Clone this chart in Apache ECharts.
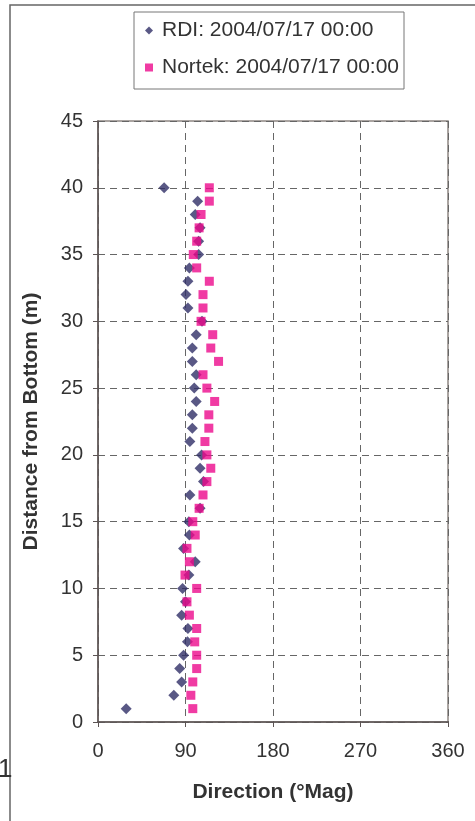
<!DOCTYPE html>
<html>
<head>
<meta charset="utf-8">
<script src="https://cdn.jsdelivr.net/npm/echarts@6/dist/echarts.min.js"></script>
<style>
  html, body { margin: 0; padding: 0; background: #fff; }
  #chart { width: 475px; height: 821px; }
</style>
</head>
<body>
<div id="chart"></div>
<script>
// distance from bottom (m), one bin per metre
const depths = [1, 2, 3, 4, 5, 6, 7, 8, 9, 10, 11, 12, 13, 14, 15, 16, 17, 18, 19, 20,
  21, 22, 23, 24, 25, 26, 27, 28, 29, 30, 31, 32, 33, 34, 35, 36, 37, 38, 39, 40]

// direction (deg Mag)
const rdiDir = [29, 78, 86, 84, 88, 92, 92.5, 86, 90, 87, 93.5, 100, 88, 94, 93.5, 105, 94.5, 108.5, 105, 106.5,
  94.5, 97, 97, 101, 99, 101, 97, 97, 101, 107, 92.5, 90.5, 92.5, 94, 103.5, 103.5, 105, 100, 102.5, 68]
const nortekDir = [97.5, 95.5, 97.5, 101.5, 101.5, 99.5, 101.5, 94, 91.5, 101.5, 89.5, 94, 91.5, 100, 97.5, 104, 108, 112, 116, 112,
  110, 114, 114, 120, 112, 108, 124, 116, 118, 106, 108, 108, 114.5, 101.5, 98, 101.5, 104, 106, 114.5, 114.5]

const xTicks = [0, 90, 180, 270, 360]

const rdiName = 'RDI: 2004/07/17 00:00'
const nortekName = 'Nortek: 2004/07/17 00:00'

const chart = echarts.init(document.getElementById('chart'))
const font = 'Liberation Sans, Arial, sans-serif'
const axisColor = '#5c5454'
const gridColor = '#666'

const option = {
  animation: false,
  textStyle: { fontFamily: font },
  grid: { left: 98, right: 27, top: 121, bottom: 99, show: true, borderColor: '#8f8682', borderWidth: 1.5 },
  legend: {
    orient: 'vertical',
    left: 134,
    top: 12,
    padding: [8, 5, 11, 11],
    itemGap: 16,
    itemWidth: 8,
    itemHeight: 8,
    borderColor: '#777',
    borderWidth: 1,
    borderRadius: 0,
    textStyle: { fontSize: 21, color: '#333', fontFamily: font, padding: [0, 0, 0, 4] },
    data: [
      { name: rdiName, icon: 'diamond', itemStyle: { color: '#2f2e66' } },
      { name: nortekName, icon: 'rect', itemStyle: { color: '#ec0a8c' } }
    ]
  },
  xAxis: {
    type: 'value',
    min: 0,
    max: 360,
    interval: 90,
    name: 'Direction (°Mag)',
    nameLocation: 'middle',
    nameGap: 60,
    nameTextStyle: { fontSize: 21, fontWeight: 'bold', color: '#333', fontFamily: font },
    axisLine: { show: true, lineStyle: { color: axisColor, width: 1.5 } },
    axisTick: { show: true, inside: false, length: 5, lineStyle: { color: axisColor } },
    axisLabel: { fontSize: 20, color: '#333', margin: 19, fontFamily: font,
      formatter: v => xTicks.includes(v) ? String(v) : '' },
    splitLine: { show: true, lineStyle: { color: gridColor, type: [7, 5], width: 1 } }
  },
  yAxis: {
    type: 'value',
    min: 0,
    max: 45,
    interval: 5,
    name: 'Distance from Bottom (m)',
    nameLocation: 'middle',
    nameGap: 56,
    nameRotate: 90,
    nameTextStyle: { fontSize: 21, fontWeight: 'bold', color: '#333', fontFamily: font },
    axisLine: { show: true, lineStyle: { color: axisColor, width: 1.5 } },
    axisTick: { show: true, inside: false, length: 5, lineStyle: { color: axisColor } },
    axisLabel: { fontSize: 20, color: '#333', margin: 15, fontFamily: font },
    splitLine: { show: true, lineStyle: { color: gridColor, type: [7, 5], width: 1 } }
  },
  graphic: [
    { type: 'rect', shape: { x: 10, y: 5, width: 500, height: 900 }, silent: true,
      style: { fill: 'none', stroke: '#666', lineWidth: 1.5 }, z: -1 },
    { type: 'text', left: -2, top: 757, silent: true,
      style: { text: '1', fontSize: 26, fill: '#333', fontFamily: font } }
  ],
  series: [
    {
      name: rdiName,
      type: 'scatter',
      symbol: 'diamond',
      symbolSize: 11,
      itemStyle: { color: '#2f2e66' },
      data: depths.map((d, i) => [rdiDir[i], d])
    },
    {
      name: nortekName,
      type: 'scatter',
      symbol: 'rect',
      symbolSize: 9,
      itemStyle: { color: '#ec0a8c' },
      data: depths.map((d, i) => [nortekDir[i], d])
    }
  ]
}

chart.setOption(option)
window.addEventListener('resize', () => chart.resize())
</script>
</body>
</html>
